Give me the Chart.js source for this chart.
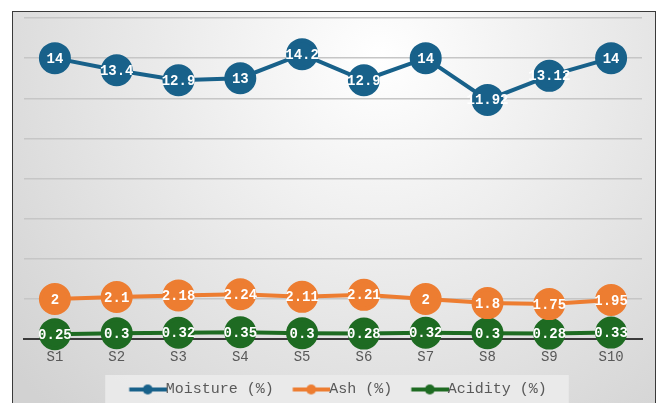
<!DOCTYPE html>
<html>
<head>
<meta charset="utf-8">
<script src="https://cdn.jsdelivr.net/npm/chart.js@4"></script>
<style>
  body { margin: 0; background: #fff; }
  #wrap { width: 660px; height: 403px; position: relative; }
</style>
</head>
<body>
<div id="wrap"><canvas id="graph"></canvas></div>
<script>
const samples = ['S1', 'S2', 'S3', 'S4', 'S5', 'S6', 'S7', 'S8', 'S9', 'S10'];
const moisture = [14, 13.4, 12.9, 13, 14.2, 12.9, 14, 11.92, 13.12, 14];
const ash = [2, 2.1, 2.18, 2.24, 2.11, 2.21, 2, 1.8, 1.75, 1.95];
const acidity = [0.25, 0.3, 0.32, 0.35, 0.3, 0.28, 0.32, 0.3, 0.28, 0.33];
const seriesNames = ['Moisture (%)', 'Ash (%)', 'Acidity (%)'];
const seriesColors = ['#18618A', '#ED7D31', '#1E6B22'];

const mono = 'Liberation Mono';

// legend marker: line with a dot in the middle, blank space on the left
function markerFor(color) {
    let c = document.createElement('canvas');
    c.width = 62;
    c.height = 12;
    let g = c.getContext('2d');
    g.strokeStyle = color;
    g.lineWidth = 4;
    g.beginPath();
    g.moveTo(24.5, 6);
    g.lineTo(62, 6);
    g.stroke();
    g.fillStyle = color;
    g.beginPath();
    g.arc(43, 6, 5, 0, Math.PI * 2);
    g.fill();
    return c;
}

const backdrop = {
    id: 'backdrop',
    afterLayout: (chart) => {
        chart.legend._nudged = false;
    },
    beforeDraw: (chart) => {
        // nudge legend down into its panel, once per layout
        if (!chart.legend._nudged) {
            chart.legend.top += 4;
            chart.legend._nudged = true;
        }
        const {ctx} = chart;
        ctx.save();
        ctx.fillStyle = '#ffffff';
        ctx.fillRect(0, 0, chart.width, chart.height);
        let grad = ctx.createRadialGradient(380, 60, 0, 380, 60, 480);
        grad.addColorStop(0, '#ffffff');
        grad.addColorStop(1, '#d2d2d2');
        ctx.fillStyle = grad;
        ctx.fillRect(12, 11, 643, 400);
        ctx.strokeStyle = '#3a3a3a';
        ctx.lineWidth = 1;
        ctx.strokeRect(12.5, 11.5, 643, 400);
        // legend panel
        let boxes = chart.legend.legendHitBoxes;
        if (boxes && boxes.length) {
            let left = boxes[0].left - 8;
            let last = boxes[boxes.length - 1];
            let right = last.left + last.width + 22;
            ctx.fillStyle = 'rgba(235,235,235,0.9)';
            ctx.fillRect(left, 375, right - left, 30);
        }
        ctx.restore();
    }
};

const valueLabels = {
    id: 'valueLabels',
    afterDatasetsDraw: (chart) => {
        const {ctx} = chart;
        ctx.save();
        ctx.font = 'bold 14px "' + mono + '"';
        ctx.fillStyle = '#ffffff';
        ctx.textAlign = 'center';
        ctx.textBaseline = 'middle';
        chart.data.datasets.forEach((ds, i) => {
            chart.getDatasetMeta(i).data.forEach((pt, j) => {
                ctx.fillText(String(ds.data[j]), pt.x, pt.y + 1);
            });
        });
        ctx.restore();
    }
};

function makeSet(name, values, color) {
    return {
        label: name,
        data: values,
        borderColor: color,
        backgroundColor: color,
        pointBackgroundColor: color,
        pointBorderColor: color,
        borderWidth: 4,
        pointRadius: 14,
        pointHoverRadius: 14,
        tension: 0,
        clip: false
    };
}

let chart = new Chart(document.getElementById('graph'), {
    type: 'line',
    data: {
        labels: samples,
        datasets: [
            makeSet(seriesNames[0], moisture, seriesColors[0]),
            makeSet(seriesNames[1], ash, seriesColors[1]),
            makeSet(seriesNames[2], acidity, seriesColors[2])
        ]
    },
    options: {
        responsive: true,
        maintainAspectRatio: false,
        animation: false,
        layout: { padding: { left: 10, right: 10, top: 17, bottom: 0 } },
        plugins: {
            tooltip: { enabled: false },
            legend: {
                position: 'bottom',
                labels: {
                    usePointStyle: true,
                    pointStyleWidth: 45,
                    padding: 3,
                    color: '#595959',
                    font: { family: mono, size: 15 },
                    generateLabels: (ch) => ch.data.datasets.map((ds, i) => ({
                        text: ds.label,
                        pointStyle: markerFor(seriesColors[i]),
                        fillStyle: seriesColors[i],
                        strokeStyle: seriesColors[i],
                        lineWidth: 0,
                        hidden: false,
                        datasetIndex: i,
                        fontColor: '#595959'
                    }))
                }
            }
        },
        scales: {
            x: {
                offset: true,
                grid: { display: false },
                border: { display: true, color: '#3a3a3a', width: 2 },
                ticks: { color: '#595959', font: { family: mono, size: 14 }, padding: 2 },
                afterFit: (scale) => { scale.height += 7; }
            },
            y: {
                min: 0,
                max: 16,
                ticks: { display: false, stepSize: 2 },
                border: { display: false },
                grid: { color: '#c6c6c6', lineWidth: 1.5, drawTicks: false },
                afterFit: (scale) => { scale.width = 14; }
            }
        }
    },
    plugins: [backdrop, valueLabels]
});
</script>
</body>
</html>
